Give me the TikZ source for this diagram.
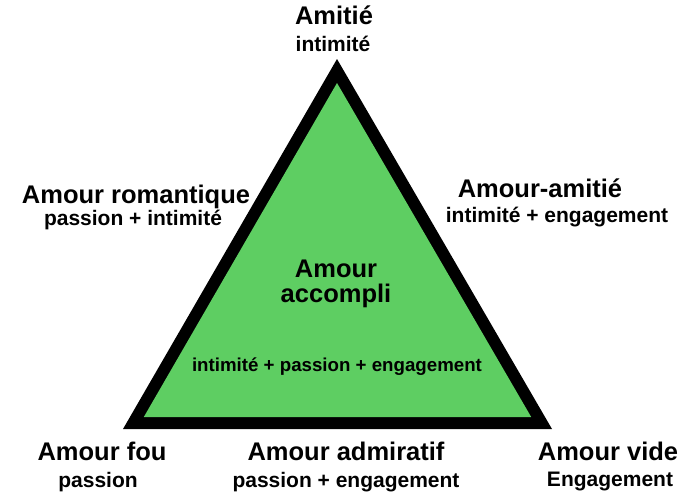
\documentclass[tikz,border=0pt]{standalone}
\usepackage{fontspec}
\setmainfont{Liberation Sans}
\definecolor{tgreen}{RGB}{94,206,98}
\begin{document}
\begin{tikzpicture}[x=1pt,y=-1pt,
  big/.style={font=\fontsize{25.5}{28}\selectfont\bfseries, anchor=base, inner sep=0pt},
  small/.style={font=\fontsize{21}{24}\selectfont\bfseries, anchor=base, inner sep=0pt},
  tiny/.style={font=\fontsize{18.7}{22}\selectfont\bfseries, anchor=base, inner sep=0pt}]
\useasboundingbox (0,0) rectangle (685,496);
\coordinate (top) at (337,59);
\coordinate (bl) at (123,429);
\coordinate (br) at (552,429);
\fill[black] (top) -- (bl) -- (br) -- cycle;
\fill[tgreen] (337,83) -- (143.8,417) -- (531.2,417) -- cycle;
\node[big] (amitie) at (334,24) {Amitié};
\node[small] (amitieS) at (333,51) {intimité};
\node[big] (rom) at (136,203) {Amour romantique};
\node[small] (romS) at (133,225) {passion + intimité};
\node[big] (amam) at (540,197) {Amour-amitié};
\node[small] (amamS) at (557,222) {intimité + engagement};
\node[big] (acc1) at (336,277) {Amour};
\node[big] (acc2) at (336,302) {accompli};
\node[tiny] (accS) at (337,371) {intimité + passion + engagement};
\node[big] (fou) at (102,460) {Amour fou};
\node[small] (fouS) at (98,487) {passion};
\node[big] (adm) at (346,460) {Amour admiratif};
\node[small] (admS) at (346,487) {passion + engagement};
\node[big] (vide) at (608,460) {Amour vide};
\node[small] (videS) at (610,486) {Engagement};
\end{tikzpicture}
\end{document}
